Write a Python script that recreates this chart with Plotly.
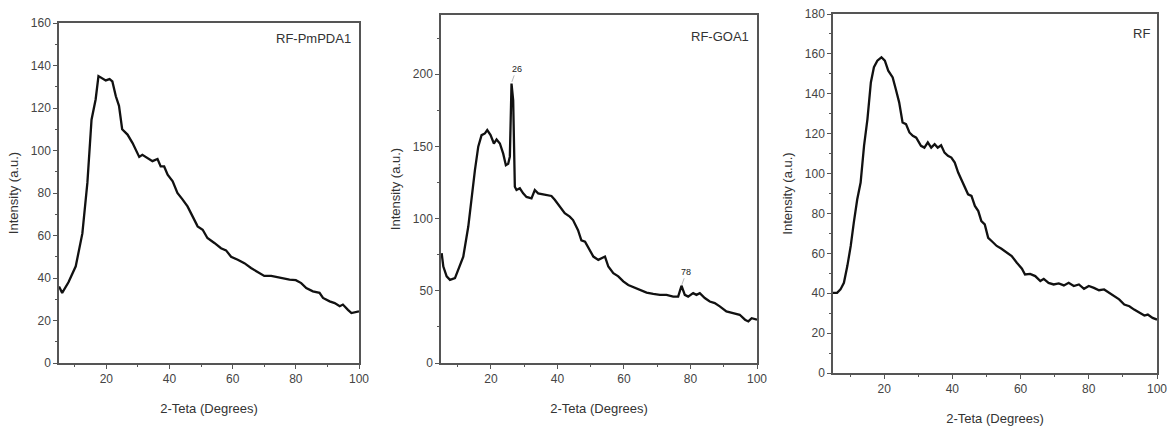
import plotly.graph_objects as go

# ---------------- data ----------------
pm_x = [5, 6, 8, 10.3, 12.4, 14, 15.3, 16.6, 17.5, 18.7, 19.8, 21, 21.9, 23, 24, 25, 26.7, 28.3,
        29.3, 30.4, 31.4, 33, 34.6, 36.2, 37.2, 38.3, 39.4, 41, 42.5, 44.1, 45.7, 47.3, 48.9, 50.5,
        52, 54.2, 56.3, 57.9, 59.5, 61.6, 63.7, 65.8, 67.9, 70, 72.2, 73.8, 75.9, 78, 80, 81.7,
        83.3, 85.4, 87.5, 88.6, 90.7, 92.3, 93.9, 94.9, 96.5, 97.6, 100]
pm_y = [36, 33, 38, 45.5, 61, 85, 114.5, 124, 135, 134, 133, 133.6, 132.5, 125.5, 121, 110, 107.5,
        103.5, 100, 97, 98, 96.5, 95, 96, 92.5, 92.5, 88.6, 85.5, 80, 77, 73.7, 69, 64.3, 62.7,
        58.8, 56.5, 54, 53, 50, 48.6, 47, 44.7, 43, 41, 41, 40.5, 39.5, 39.2, 39, 37.6, 35.3,
        33.7, 33, 30.6, 29, 28.2, 26.7, 27.5, 25, 23.5, 24.3]

go_x = [5.2, 5.7, 6.7, 7.7, 9.2, 10.2, 11.7, 13.2, 14.2, 15.2, 16.2, 17.2, 18.2, 18.9, 19.9, 20.9,
        21.7, 22.7, 23.7, 24.5, 25.2, 25.7, 26.2, 26.7, 27.2, 27.7, 28.7, 29.7, 30.7, 32.2, 33.2,
        34.2, 35.7, 37.2, 38.2, 39.2, 40.7, 42.2, 43.7, 44.7, 46.2, 47.2, 48.3, 49.3, 50.8, 52.3,
        53.3, 54.3, 55.3, 56.8, 58.3, 59.8, 61.3, 62.8, 64.8, 66.8, 68.8, 70.8, 72.8, 74.8, 76.3,
        77.3, 78.3, 79.3, 80.8, 81.8, 82.8, 84.3, 85.8, 87.3, 88.8, 90.8, 92.8, 94.8, 96.4, 97.4,
        98.4, 100]
go_y = [76, 66.8, 60, 57.6, 58.8, 64.5, 73.7, 94.5, 115, 133.6, 149.8, 157.8, 159, 161.3, 157.8,
        152, 154.8, 152, 145, 137, 138, 142.9, 193.5, 182, 122, 119.8, 121, 117.5, 115, 114, 119.8,
        117.5, 116.8, 116.4, 115.7, 113, 108.3, 103.7, 101.4, 99, 92, 85, 84, 79.5, 73.7, 71.4,
        72.6, 73.7, 66.8, 62.2, 60, 56.5, 54, 52.5, 50.7, 48.8, 47.9, 47.2, 47.2, 46, 46, 53.5,
        47.2, 46, 48.4, 47.2, 48.4, 45, 42.6, 41.5, 39.2, 35.7, 34.6, 33.4, 30, 28.8, 31, 30]

rf_x = [5, 6.2, 7.2, 8.2, 9.2, 10.2, 11.1, 12.1, 13.1, 14.1, 15.1, 16.1, 17, 18, 19.2, 20.2, 21.2,
        22.5, 23.4, 24.4, 25.4, 26.4, 27.4, 28.4, 29.4, 30.8, 31.8, 32.8, 33.8, 34.8, 35.7, 36.7,
        37.7, 38.7, 39.7, 40.7, 41.7, 42.6, 43.6, 44.6, 45.6, 46.6, 47.6, 48.5, 49.5, 50.5, 51.5,
        53, 54.4, 55.9, 57.4, 58.9, 60.4, 61.3, 62.8, 64.3, 65.8, 66.8, 68.2, 69.7, 71.2, 72.7,
        74.1, 75.6, 77.1, 78.6, 80, 81.5, 83, 84.5, 86, 87.4, 88.9, 90.4, 91.9, 93.3, 94.8, 96.3,
        97.3, 98.7, 100]
rf_y = [40.2, 40.2, 41.9, 45.2, 53.6, 63.7, 75.4, 87, 95.5, 113.9, 127.3, 145.7, 153.3, 156.6,
        158.3, 156.6, 151.6, 148.2, 142.4, 135.7, 125.6, 124.8, 120.6, 118.9, 118, 113.9, 113,
        115.6, 113, 114.7, 113, 114.2, 110.5, 108.9, 108, 105.5, 100.5, 97.2, 93, 89.6, 88.8,
        83.8, 81.2, 76.2, 74.5, 67.8, 66.2, 63.7, 62.3, 60.3, 58.6, 55.3, 52.3, 49.4, 49.7, 48.6,
        46.1, 47.2, 45.2, 44.4, 44.9, 43.9, 45.2, 43.6, 44.4, 42.2, 43.6, 42.7, 41.5, 41.9, 40.2,
        38.5, 36.9, 34.3, 33.5, 31.8, 30.2, 28.8, 29.3, 27.6, 26.8]

panel_labels = ["RF-PmPDA1", "RF-GOA1", "RF"]
peak_labels = ["26", "78"]
peak_x = [26.2, 77.3]
peak_y = [194, 53.5]

x_title = "2-Teta (Degrees)"
y_title = "Intensity (a.u.)"
x_ticks = [20, 40, 60, 80, 100]

# ---------------- figure ----------------
W, H = 1168, 429
fig = go.Figure()

series = [(pm_x, pm_y), (go_x, go_y), (rf_x, rf_y)]
for i, (xs, ys) in enumerate(series):
    sfx = "" if i == 0 else str(i + 1)
    fig.add_trace(go.Scatter(x=xs, y=ys, mode="lines",
                             line=dict(color="#111111", width=2.3),
                             xaxis="x" + sfx, yaxis="y" + sfx, showlegend=False))

# pixel boxes (left, right, top, bottom)
boxes = [(59, 359, 23, 363), (441, 757, 15, 363), (833, 1157, 14, 373)]
label_pos = [(0.98, 0.982), (0.981, 0.966), (0.985, 0.972)]
y_ranges = [[0, 160], [0, 241], [0, 180]]
y_dticks = [20, 50, 20]
tickfont = dict(family="Liberation Sans Narrow, Liberation Sans, Arial", size=12, color="#444444")
titlefont = dict(family="Liberation Sans, Arial", size=13, color="#333333")

for i, (l, r, t, b) in enumerate(boxes):
    sfx = "" if i == 0 else str(i + 1)
    common = dict(showline=True, linecolor="#555555", linewidth=1.5, mirror=True,
                  ticks="outside", ticklen=4, tickwidth=1, tickcolor="#555555",
                  showgrid=False, zeroline=False, tickfont=tickfont, automargin=False)
    fig.layout["xaxis" + sfx] = dict(
        domain=[l / W, r / W], anchor="y" + sfx, range=[5, 100],
        tickvals=x_ticks, title=dict(text=x_title, font=titlefont, standoff=19),
        minor=dict(ticks="outside", ticklen=2, dtick=10, tick0=0, tickcolor="#555555"),
        **common)
    fig.layout["yaxis" + sfx] = dict(
        domain=[1 - b / H, 1 - t / H], anchor="x" + sfx, range=y_ranges[i],
        dtick=y_dticks[i], tick0=0, title=dict(text=y_title, font=titlefont, standoff=9),
        minor=dict(ticks="outside", ticklen=2, dtick=y_dticks[i] / 2, tick0=0, tickcolor="#555555"),
        **common)
    fig.add_annotation(xref="x" + sfx + " domain", yref="y" + sfx + " domain",
                       x=label_pos[i][0], y=label_pos[i][1], xanchor="right", yanchor="top",
                       text=panel_labels[i], showarrow=False,
                       font=dict(family="Liberation Sans, Arial", size=13, color="#333333"))

for lbl, px, py in zip(peak_labels, peak_x, peak_y):
    fig.add_annotation(xref="x2", yref="y2", x=px, y=py, text=lbl,
                       showarrow=True, arrowhead=0, arrowwidth=0.6, arrowcolor="#888888",
                       ax=5, ay=-14, standoff=1,
                       font=dict(family="Liberation Sans, Arial", size=9, color="#222222"))

fig.update_layout(width=W, height=H, margin=dict(l=0, r=0, t=0, b=0),
                  paper_bgcolor="white", plot_bgcolor="white")

fig.write_html("out.html", config={"displayModeBar": False},
               post_script="document.body.style.margin='0';document.body.style.overflow='hidden';")
